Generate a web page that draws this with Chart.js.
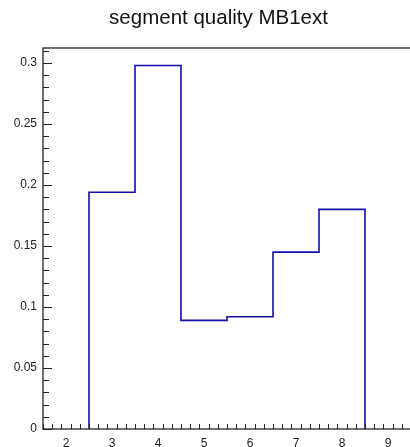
<!DOCTYPE html>
<html>
<head>
<meta charset="utf-8">
<title>segment quality MB1ext</title>
<script src="https://cdn.jsdelivr.net/npm/chart.js@4/dist/chart.umd.min.js"></script>
<style>
  html, body { margin: 0; padding: 0; background: #fff; overflow: hidden; }
  canvas { display: block; }
</style>
</head>
<body>
<canvas id="grafico" width="413" height="447"></canvas>
<script>
// histogram bins: lower edges plus the last upper edge, and the bin contents
const binEdges = [2.5, 3.5, 4.5, 5.5, 6.5, 7.5, 8.5];
const binValues = [0.194, 0.298, 0.089, 0.092, 0.145, 0.18];

// axis range and labelled ticks
const xRange = [1.5, 9.5];
const yRange = [0, 0.3123];
const xTicks = [2, 3, 4, 5, 6, 7, 8, 9];
const yTicks = [0, 0.05, 0.1, 0.15, 0.2, 0.25, 0.3];
const xMinorStep = 0.2;
const yMinorStep = 0.01;

const titulo = "segment quality MB1ext";
const fuente = "'Liberation Sans', Arial, Helvetica, sans-serif";
const lineColor = "#1010a8";
const axisColor = "#222";

// outline of the histogram as a step line: up at the first edge, across each bin, down at the last
const puntos = [{ x: binEdges[0], y: 0 }];
binValues.forEach((v, i) => puntos.push({ x: binEdges[i], y: v }));
puntos.push({ x: binEdges[binEdges.length - 1], y: 0 });

// title, frame and inward ticks (major and minor) on the left and bottom axes
const marco = {
  id: "marco",
  afterDraw(chart) {
    const { ctx, chartArea: a, scales } = chart;
    const xs = scales.x, ys = scales.y;
    ctx.save();

    ctx.fillStyle = "#111";
    ctx.font = `20.5px ${fuente}`;
    ctx.textAlign = "center";
    ctx.textBaseline = "alphabetic";
    ctx.fillText(titulo, 218.5, 23.5);

    ctx.strokeStyle = axisColor;
    ctx.lineWidth = 1;
    ctx.beginPath();
    const n = Math.round((xRange[1] - xRange[0]) / xMinorStep);
    for (let k = 0; k <= n; k++) {
      const v = xRange[0] + k * xMinorStep;
      const major = Math.abs(v - Math.round(v)) < 1e-6;
      const px = Math.round(xs.getPixelForValue(v)) + 0.5;
      ctx.moveTo(px, a.bottom);
      ctx.lineTo(px, a.bottom - (major ? 10 : 5));
    }
    const m = Math.floor((yRange[1] - yRange[0]) / yMinorStep + 1e-6);
    for (let k = 0; k <= m; k++) {
      const v = yRange[0] + k * yMinorStep;
      const major = Math.abs(v / 0.05 - Math.round(v / 0.05)) < 1e-6;
      const py = Math.round(ys.getPixelForValue(v)) + 0.5;
      ctx.moveTo(a.left, py);
      ctx.lineTo(a.left + (major ? 9 : 6), py);
    }
    ctx.stroke();

    ctx.lineWidth = 1.3;
    ctx.strokeRect(a.left, a.top, a.right - a.left, a.bottom - a.top);
    ctx.restore();
  }
};

const chart = new Chart(document.getElementById("grafico").getContext("2d"), {
  type: "line",
  data: {
    datasets: [{
      data: puntos,
      borderColor: lineColor,
      borderWidth: 1.6,
      stepped: "before",
      pointRadius: 0,
      fill: false,
      clip: false
    }]
  },
  options: {
    responsive: false,
    animation: false,
    layout: { padding: { left: 0, right: 2, top: 48, bottom: 0 } },
    plugins: {
      legend: { display: false },
      tooltip: { enabled: false },
      title: { display: false }
    },
    scales: {
      x: {
        type: "linear",
        min: xRange[0],
        max: xRange[1],
        afterBuildTicks: s => { s.ticks = xTicks.map(v => ({ value: v })); },
        afterFit: s => { s.height = 18; },
        grid: { display: false, drawTicks: false },
        border: { display: false },
        ticks: {
          padding: 7,
          color: "#222",
          maxRotation: 0,
          autoSkip: false,
          font: { family: fuente, size: 12 },
          callback: v => String(v)
        }
      },
      y: {
        type: "linear",
        min: yRange[0],
        max: yRange[1],
        afterBuildTicks: s => { s.ticks = yTicks.map(v => ({ value: v })); },
        afterFit: s => { s.width = 43; },
        grid: { display: false, drawTicks: false },
        border: { display: false },
        ticks: {
          padding: 6,
          color: "#222",
          autoSkip: false,
          font: { family: fuente, size: 12 },
          callback: v => String(+v.toFixed(2))
        }
      }
    }
  },
  plugins: [marco]
});
</script>
</body>
</html>
